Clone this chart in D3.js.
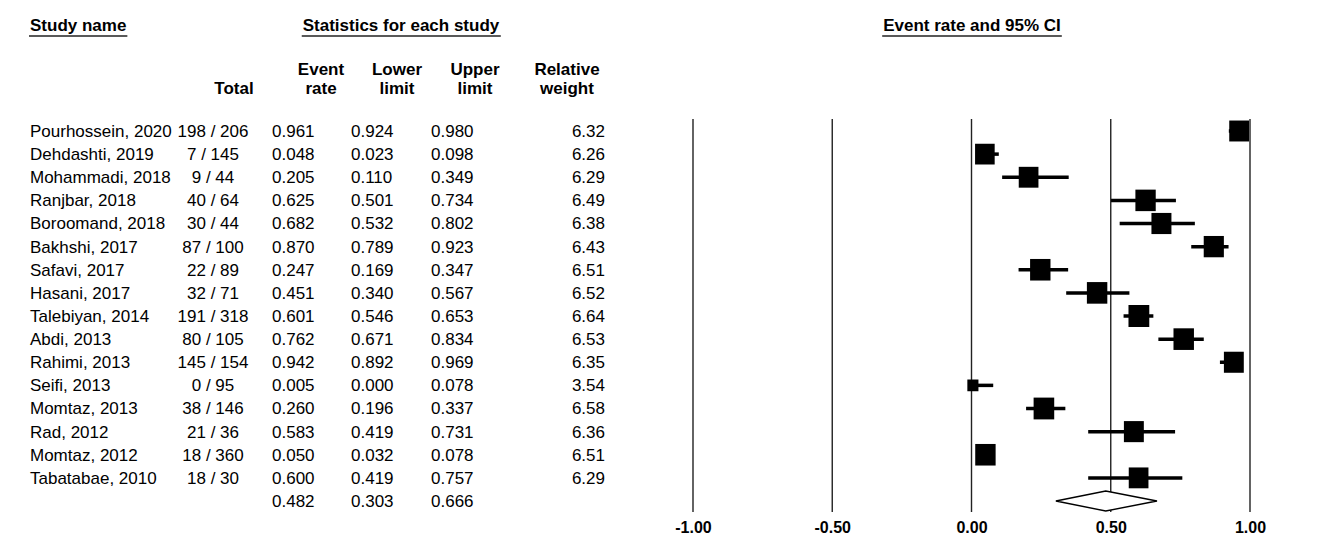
<!DOCTYPE html>
<html>
<head>
<meta charset="utf-8">
<script src="https://cdn.jsdelivr.net/npm/d3@7"></script>
<style>
  body { margin: 0; background: #fff; }
  svg { font-family: "Liberation Sans", Arial, sans-serif; }
</style>
</head>
<body>
<div id="chart"></div>
<script>
// data
var studies = ["Pourhossein, 2020", "Dehdashti, 2019", "Mohammadi, 2018", "Ranjbar, 2018", "Boroomand, 2018",
  "Bakhshi, 2017", "Safavi, 2017", "Hasani, 2017", "Talebiyan, 2014", "Abdi, 2013", "Rahimi, 2013",
  "Seifi, 2013", "Momtaz, 2013", "Rad, 2012", "Momtaz, 2012", "Tabatabae, 2010"];
var events = [198, 7, 9, 40, 30, 87, 22, 32, 191, 80, 145, 0, 38, 21, 18, 18];
var totals = [206, 145, 44, 64, 44, 100, 89, 71, 318, 105, 154, 95, 146, 36, 360, 30];
var eventRate = [0.961, 0.048, 0.205, 0.625, 0.682, 0.870, 0.247, 0.451, 0.601, 0.762, 0.942, 0.005, 0.260, 0.583, 0.050, 0.600];
var lowerLimit = [0.924, 0.023, 0.110, 0.501, 0.532, 0.789, 0.169, 0.340, 0.546, 0.671, 0.892, 0.000, 0.196, 0.419, 0.032, 0.419];
var upperLimit = [0.980, 0.098, 0.349, 0.734, 0.802, 0.923, 0.347, 0.567, 0.653, 0.834, 0.969, 0.078, 0.337, 0.731, 0.078, 0.757];
var relWeight = [6.32, 6.26, 6.29, 6.49, 6.38, 6.43, 6.51, 6.52, 6.64, 6.53, 6.35, 3.54, 6.58, 6.36, 6.51, 6.29];
var summary = [0.482, 0.303, 0.666]; // event rate, lower, upper
var ticks = [-1, -0.5, 0, 0.5, 1];

var width = 1327, height = 535;
var fs = "17px";
var svg = d3.select("#chart").append("svg")
  .attr("width", width)
  .attr("height", height);

var x = d3.scaleLinear().domain([-1, 1]).range([693, 1250]);
var y = d3.scaleLinear().domain([0, 16]).range([131, 501]);
var side = d3.scaleLinear().domain([0, 6.64]).range([0, 20.8]);
var sideY = d3.scaleLinear().domain([0, 6.64]).range([0, 22]);
var f3 = d3.format(".3f"), f2 = d3.format(".2f");

// top headers (bold + underlined)
function header(txt, xp, anchor) {
  var t = svg.append("text")
    .attr("x", xp).attr("y", 31)
    .attr("text-anchor", anchor)
    .attr("font-size", fs).attr("font-weight", "bold")
    .text(txt);
  var b = t.node().getBBox();
  svg.append("line")
    .attr("x1", b.x - 1).attr("x2", b.x + b.width + 1)
    .attr("y1", 36).attr("y2", 36)
    .attr("stroke", "#222").attr("stroke-width", 1.3);
}
header("Study name", 30, "start");
header("Statistics for each study", 401, "middle");
header("Event rate and 95% CI", 972, "middle");

// column headers
var colHead = [
  {l1: "", l2: "Total", x: 234},
  {l1: "Event", l2: "rate", x: 321},
  {l1: "Lower", l2: "limit", x: 397},
  {l1: "Upper", l2: "limit", x: 475},
  {l1: "Relative", l2: "weight", x: 567}
];
colHead.forEach(function(c) {
  svg.append("text").attr("x", c.x).attr("y", 75)
    .attr("text-anchor", "middle").attr("font-size", fs).attr("font-weight", "bold")
    .text(c.l1);
  svg.append("text").attr("x", c.x).attr("y", 94)
    .attr("text-anchor", "middle").attr("font-size", fs).attr("font-weight", "bold")
    .text(c.l2);
});

// table rows
var rows = svg.selectAll(".row").data(studies).enter().append("g")
  .attr("class", "row")
  .attr("transform", function(d, i) { return "translate(0," + y(i) + ")"; })
  .attr("font-size", fs);

rows.append("text").attr("x", 30).attr("dy", "0.35em").text(function(d) { return d; });
rows.append("text").attr("x", 213).attr("dy", "0.35em").attr("text-anchor", "middle")
  .text(function(d, i) { return events[i] + " / " + totals[i]; });
rows.append("text").attr("x", 272).attr("dy", "0.35em").text(function(d, i) { return f3(eventRate[i]); });
rows.append("text").attr("x", 351).attr("dy", "0.35em").text(function(d, i) { return f3(lowerLimit[i]); });
rows.append("text").attr("x", 431).attr("dy", "0.35em").text(function(d, i) { return f3(upperLimit[i]); });
rows.append("text").attr("x", 605).attr("dy", "0.35em").attr("text-anchor", "end")
  .text(function(d, i) { return f2(relWeight[i]); });

// summary row numbers
var sumRow = svg.append("g").attr("transform", "translate(0," + y(16) + ")").attr("font-size", fs);
[272, 351, 431].forEach(function(xp, k) {
  sumRow.append("text").attr("x", xp).attr("dy", "0.35em").text(f3(summary[k]));
});

// vertical reference lines
svg.selectAll(".vline").data(ticks).enter().append("line")
  .attr("x1", function(d) { return x(d); }).attr("x2", function(d) { return x(d); })
  .attr("y1", 119).attr("y2", 512)
  .attr("stroke", "#222").attr("stroke-width", 1.4);

// axis labels (plain hyphen for negatives)
var axis = d3.axisBottom(x).tickValues(ticks).tickSize(0)
  .tickFormat(function(d) { return d3.format(".2f")(d).replace("\u2212", "-"); });
var ag = svg.append("g").attr("transform", "translate(0,519)").call(axis);
ag.select(".domain").remove();
ag.selectAll("text").attr("font-size", "16px").attr("font-weight", "bold")
  .attr("font-family", "Liberation Sans, Arial, sans-serif").attr("fill", "#000");

// CI lines
svg.selectAll(".ci").data(studies).enter().append("line")
  .attr("x1", function(d, i) { return x(lowerLimit[i]); })
  .attr("x2", function(d, i) { return x(upperLimit[i]); })
  .attr("y1", function(d, i) { return y(i); })
  .attr("y2", function(d, i) { return y(i); })
  .attr("stroke", "#000").attr("stroke-width", 3.5);

// weighted squares
svg.selectAll(".box").data(studies).enter().append("rect")
  .attr("x", function(d, i) { return x(eventRate[i]) - side(relWeight[i]) / 2; })
  .attr("y", function(d, i) { return y(i) - sideY(relWeight[i]) / 2; })
  .attr("width", function(d, i) { return side(relWeight[i]); })
  .attr("height", function(d, i) { return sideY(relWeight[i]); })
  .attr("fill", "#000");

// summary diamond
var dy = y(16);
svg.append("path")
  .attr("d", "M" + x(summary[1]) + "," + dy +
    "L" + x(summary[0]) + "," + (dy - 10) +
    "L" + x(summary[2]) + "," + dy +
    "L" + x(summary[0]) + "," + (dy + 10) + "Z")
  .attr("fill", "#fff").attr("stroke", "#000").attr("stroke-width", 1.4);
</script>
</body>
</html>
